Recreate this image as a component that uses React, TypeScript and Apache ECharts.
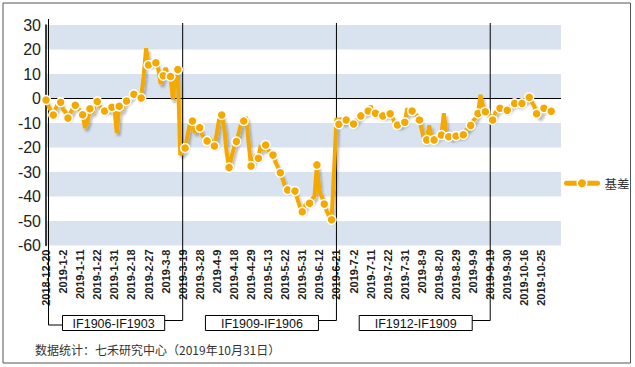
import React, { useEffect, useRef } from 'react';
import * as echarts from 'echarts';

// Chinese exchange holidays in the period (weekdays with no trading)
const HOLIDAYS = [
  '2018-12-31', '2019-1-1', '2019-2-4', '2019-2-5', '2019-2-6', '2019-2-7', '2019-2-8',
  '2019-4-5', '2019-5-1', '2019-5-2', '2019-5-3', '2019-6-7', '2019-9-13',
  '2019-10-1', '2019-10-2', '2019-10-3', '2019-10-4', '2019-10-7',
];

function tradingDays(): string[] {
  const out: string[] = [];
  const d = new Date(Date.UTC(2018, 11, 20));
  const end = Date.UTC(2019, 9, 31);
  while (d.getTime() <= end) {
    const wd = d.getUTCDay();
    const s = `${d.getUTCFullYear()}-${d.getUTCMonth() + 1}-${d.getUTCDate()}`;
    if (wd !== 0 && wd !== 6 && HOLIDAYS.indexOf(s) < 0) out.push(s);
    d.setUTCDate(d.getUTCDate() + 1);
  }
  return out;
}

const DATES = tradingDays();
const AXIS_PAD = [' ', '  ', '   ', '    '];
const CATEGORIES = DATES.concat(AXIS_PAD);

// 基差 (basis), one value per trading day
const BASIS = [
  -0.6, -3, -5, -6.7, -4, -2, -1.5, -4.5, -5.5, -8,
  -6, -4, -2.8, -4, -5, -6.6, -12, -9.5, -4.2, -6,
  -3, -1.2, -3, -5, -5.1, -4, -5, -3.6, -4, -14,
  -3.2, -5, -2, -1, 0, 1, 1.7, 2, 1, 0.2,
  9, 20.5, 13.7, 14, 15, 14.6, 12, 6, 9.3, 12.5,
  9, 9, -0.5, 9, 11.8, -23, -22, -20.2, -15, -10,
  -9.2, -14, -12, -11.9, -15, -16, -17.3, -16, -18, -19.4,
  -14, -8, -6.7, -12, -22, -28.2, -24, -20, -17.6, -14,
  -10, -9.2, -7.5, -18, -27.6, -25, -23, -24.4, -19, -21,
  -19, -21, -22, -23.1, -26, -28, -30.3, -33, -36, -37.3,
  -37, -37, -37.8, -41, -44, -46.2, -44, -42, -42.8, -41,
  -40, -27.1, -38, -40, -43.1, -46, -48, -49.5, -30, -8,
  -10.5, -8, -10, -8.8, -9, -10, -10.4, -9, -8, -7.1,
  -6, -6, -5.1, -3, -6, -6, -6.5, -7, -7.1, -7,
  -6.5, -6.2, -8, -10, -10.8, -11, -10, -9.7, -4, -6,
  -5.1, -6, -7, -8.8, -13, -17, -16.9, -11, -16, -16.9,
  -16, -15, -14.9, -6, -15, -15.6, -16, -15.5, -15.3, -15,
  -15, -14.8, -13, -12, -11, -9, -8, -6.1, 1.5, -3,
  -5.4, -6, -7, -8.8, -6, -4.5, -4, -3.5, -4, -4.8,
  -3.5, -2.5, -2, -2, -2.5, -2, -1, -0.5, 0.5, -1.5,
  -3, -6.2, -7.5, -5, -4, -3.5, -4.5, -5.2,
];

const Y_MIN = -60;
const Y_MAX = 30;
const Y_STEP = 10;

// contract roll periods: last day of each period and its label
const PERIOD_ENDS = ['2019-3-19', '2019-6-21', '2019-9-19'];
const PERIOD_LABELS = ['IF1906-IF1903', 'IF1909-IF1906', 'IF1912-IF1909'];

const SERIES_NAME = '基差';
const FOOTER = '数据统计：七禾研究中心（2019年10月31日）';

const ORANGE = '#F5A800';
const LATIN = '"Liberation Sans", Arial, sans-serif';
const CJK = '"Noto Sans CJK SC", sans-serif';

export default function App() {
  const ref = useRef<HTMLDivElement>(null);

  useEffect(() => {
    if (!ref.current) return;
    const chart = echarts.init(ref.current, undefined, { renderer: 'svg' });

    const data = BASIS.map((v, i) =>
      i % 3 === 0 ? v : { value: v, symbol: 'none' }
    );

    const gridLeft = 46;
    const gridTop = 25;
    const gridRightX = 561;
    const gridBottomY = 245.5;

    chart.setOption({
      animation: false,
      backgroundColor: '#fff',
      grid: {
        left: gridLeft,
        top: gridTop,
        right: 635 - gridRightX,
        bottom: 367 - gridBottomY,
        containLabel: false,
      },
      legend: {
        data: [SERIES_NAME],
        left: 559,
        top: 172,
        itemWidth: 31,
        itemHeight: 12,
        lineStyle: { width: 5, cap: 'round' },
        itemStyle: { borderColor: '#fff', borderWidth: 1.5 },
        textStyle: { fontSize: 12.5, color: '#333', fontFamily: CJK, padding: [0, 0, 0, 2] },
      },
      xAxis: {
        type: 'category',
        data: CATEGORIES,
        boundaryGap: false,
        axisLine: { show: false },
        axisTick: { show: false },
        splitLine: { show: false },
        axisLabel: {
          interval: 6,
          rotate: 90,
          margin: 4,
          fontSize: 11,
          fontWeight: 'bold',
          color: '#222',
          fontFamily: LATIN,
        },
      },
      yAxis: {
        type: 'value',
        min: Y_MIN,
        max: Y_MAX,
        interval: Y_STEP,
        axisLine: { show: true, lineStyle: { color: '#000', width: 1.5 } },
        axisTick: { show: false },
        splitLine: { show: false },
        splitArea: { show: true, areaStyle: { color: ['#D8E3EF', '#FFFFFF'] } },
        axisLabel: { fontSize: 16, color: '#222', margin: 5, fontFamily: LATIN },
      },
      series: [
        {
          name: SERIES_NAME,
          type: 'line',
          data,
          z: 3,
          color: ORANGE,
          showAllSymbol: true,
          symbol: 'circle',
          symbolSize: 9,
          itemStyle: { color: ORANGE, borderColor: '#fff', borderWidth: 1.5 },
          lineStyle: {
            color: ORANGE,
            width: 4,
            shadowColor: 'rgba(0,0,0,0.25)',
            shadowBlur: 2,
            shadowOffsetX: 2,
            shadowOffsetY: 3,
          },
          emphasis: { disabled: true },
        },
      ],
    });

    const px = (d: string) => chart.convertToPixel({ xAxisIndex: 0 }, d) as number;
    const py = (v: number) => chart.convertToPixel({ yAxisIndex: 0 }, v) as number;

    const y0 = py(0);
    const xStart = px(CATEGORIES[0]);
    const xEnd = px(CATEGORIES[CATEGORIES.length - 1]);

    const boxY = 315.5;
    const boxH = 15;
    const connY = 320.5;
    const lineTop = 23;
    const leftBracketX = xStart + 2.5;

    const elements: any[] = [
      {
        type: 'rect',
        shape: { x: 3, y: 3, width: 627.5, height: 360 },
        style: { fill: 'none', stroke: '#555', lineWidth: 1 },
        z: 0,
        silent: true,
      },
      {
        type: 'line',
        shape: { x1: xStart, y1: y0, x2: xEnd, y2: y0 },
        style: { stroke: '#000', lineWidth: 1 },
        z: 1,
        silent: true,
      },
      {
        type: 'polyline',
        shape: { points: [[leftBracketX, 19], [leftBracketX, 325], [leftBracketX + 14, 325]] },
        style: { stroke: '#000', lineWidth: 1, fill: 'none' },
        z: 1,
        silent: true,
      },
      {
        type: 'text',
        x: 35,
        y: 349,
        style: {
          text: FOOTER,
          fill: '#333',
          font: `12px ${CJK}`,
          verticalAlign: 'middle',
          align: 'left',
        },
        silent: true,
      },
    ];

    PERIOD_ENDS.forEach((d, i) => {
      const xe = px(d);
      const boxRight = xe - 18;
      const boxLeft = i === 0 ? leftBracketX + 14 : boxRight - 113;
      elements.push({
        type: 'polyline',
        shape: { points: [[xe, lineTop], [xe, connY], [boxRight, connY]] },
        style: { stroke: '#000', lineWidth: 1, fill: 'none' },
        z: 1,
        silent: true,
      });
      elements.push({
        type: 'rect',
        shape: { x: boxLeft, y: boxY, width: boxRight - boxLeft, height: boxH },
        style: { fill: '#fff', stroke: '#000', lineWidth: 1 },
        z: 2,
        silent: true,
      });
      elements.push({
        type: 'text',
        x: (boxLeft + boxRight) / 2,
        y: boxY + boxH / 2 + 0.5,
        style: {
          text: PERIOD_LABELS[i],
          fill: '#111',
          font: `12.5px ${LATIN}`,
          align: 'center',
          verticalAlign: 'middle',
        },
        z: 3,
        silent: true,
      });
    });

    chart.setOption({ graphic: { elements } });

    return () => chart.dispose();
  }, []);

  return (
    <div
      ref={ref}
      style={{ position: 'absolute', left: 0, top: 0, width: 635, height: 367 }}
    />
  );
}
